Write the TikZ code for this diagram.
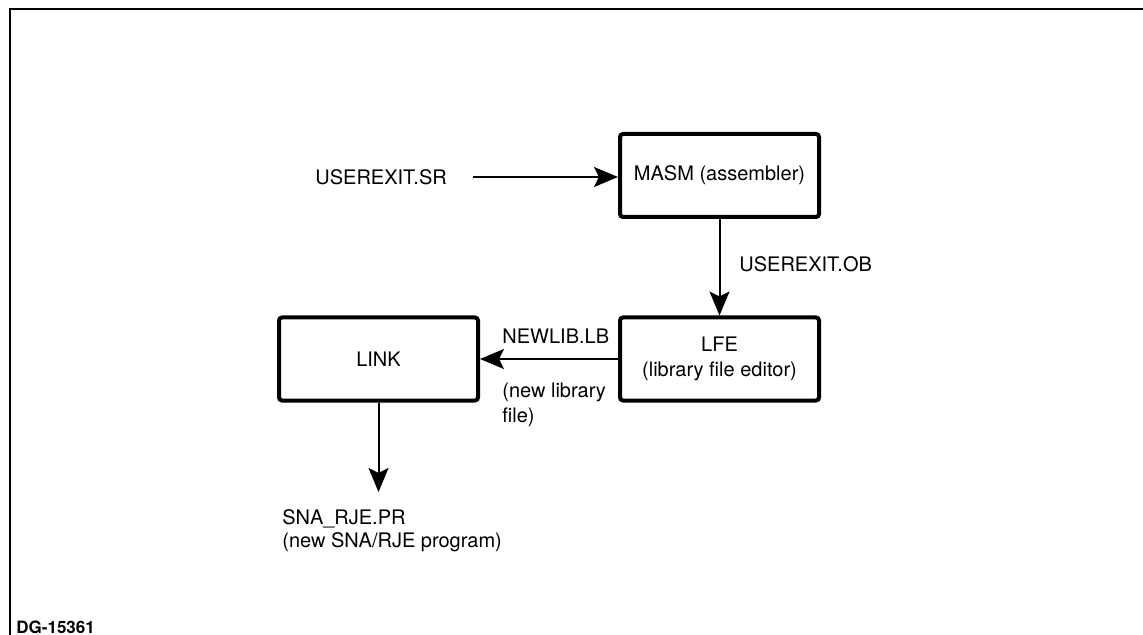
\documentclass[tikz,border=0pt]{standalone}
\usepackage{fontspec}
\setmainfont{TeX Gyre Heros}
\usetikzlibrary{arrows.meta}
\begin{document}
\begin{tikzpicture}[x=0.5pt,y=-0.5pt,
  proc/.style={draw=black, line width=2pt, rounded corners=1.5pt, minimum width=99.5pt, minimum height=41.5pt, inner sep=0pt, align=center, font=\fontsize{10}{12.5}\selectfont},
  lbl/.style={inner sep=0pt, anchor=west, align=left, font=\fontsize{10}{11.5}\selectfont},
  flow/.style={line width=1pt, -{Stealth[length=12pt,width=10pt,inset=2.5pt]}}]
\useasboundingbox (0,0) rectangle (1143,635);
\draw[line width=1pt] (10,635) -- (10,9) -- (1143,9);
\node[proc] (masm) at (719.5,175.5) {MASM (assembler)};
\node[proc] (lfe) at (719.5,359) {LFE\\(library file editor)};
\node[proc] (link) at (378.5,359) {LINK};
\node[lbl] (src) at (315,177) {USEREXIT.SR};
\coordinate (srcend) at (473,177);
\node[lbl] (ob) at (739,264) {USEREXIT.OB};
\node[lbl] (nl) at (502,336) {NEWLIB.LB};
\node[lbl] (nlf) at (502,392) {(new library};
\node[lbl] (nlf2) at (502,417) {file)};
\node[lbl, anchor=north west, font=\fontsize{10}{11.5}\selectfont] (out) at (282,509) {SNA\_RJE.PR\\(new SNA/RJE program)};
\coordinate (outtop) at (378.5,492);
\node[inner sep=0pt, anchor=south west, font=\bfseries\fontsize{8.5}{9}\selectfont] (dg) at (16,634) {DG-15361};
\draw[flow] (srcend) -- (masm.west |- srcend);
\draw[flow] (masm.south) -- (lfe.north);
\draw[flow] (lfe.west) -- (link.east);
\draw[flow] (link.south) -- (outtop);
\end{tikzpicture}
\end{document}
